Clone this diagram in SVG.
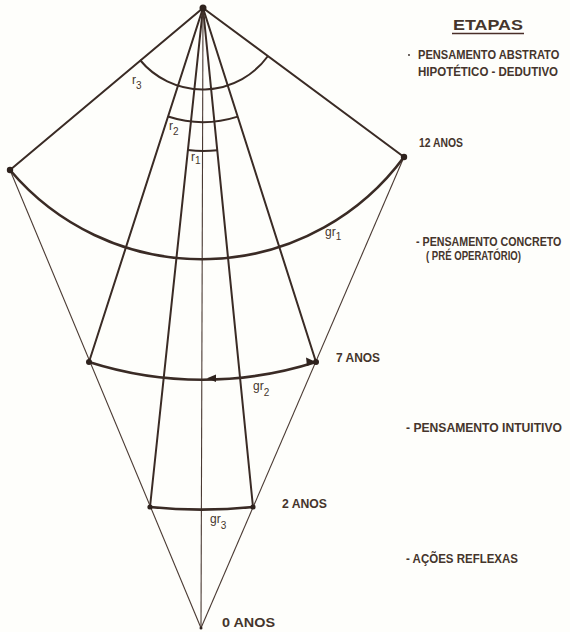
<svg xmlns="http://www.w3.org/2000/svg" width="570" height="632" viewBox="0 0 570 632">
<style>
.thick{stroke:#3a2b25;stroke-width:2;fill:none;stroke-linecap:round}
.thin{stroke:#4a3a33;stroke-width:1.1;fill:none}
.arc{stroke:#3a2b25;stroke-width:2.6;fill:none}
.sarc{stroke:#3a2b25;stroke-width:2;fill:none}
.dot{fill:#2e221d}
.lab{font-family:"Liberation Sans",Arial,sans-serif;font-weight:bold;font-size:12px;fill:#45352c}
.sym{font-family:"Liberation Sans",Arial,sans-serif;font-size:12px;fill:#45352c}
.sub{font-size:10px}
</style>
<rect width="570" height="632" fill="#fefefb"/>
<g id="connectors">
  <line class="thick" x1="203" y1="8" x2="10" y2="170"/>
  <line class="thick" x1="203" y1="8" x2="404" y2="157"/>
  <line class="thick" x1="203" y1="8" x2="89" y2="362"/>
  <line class="thick" x1="203" y1="8" x2="316" y2="362"/>
  <line class="thick" x1="203" y1="8" x2="150" y2="507"/>
  <line class="thick" x1="203" y1="8" x2="253" y2="507"/>
  <line class="thin" x1="203" y1="8" x2="201" y2="628"/>
  <line class="thin" x1="10" y1="170" x2="201" y2="628"/>
  <line class="thin" x1="404" y1="157" x2="201" y2="628"/>
</g>
<g id="arcs">
  <path id="gr1" class="arc" d="M10,170 A251,251 0 0,0 404,157"/>
  <path id="gr2" class="arc" d="M89,362 A372,372 0 0,0 316,362"/>
  <path id="gr3" class="arc" d="M150,507 A502,502 0 0,0 253,507"/>
  <path id="r3" class="sarc" d="M140,60 A81,81 0 0,0 268,56"/>
  <path id="r2" class="sarc" d="M168,116.5 A114,114 0 0,0 237.7,116.6"/>
  <path id="r1" class="sarc" d="M187.9,150.1 A143,143 0 0,0 217.3,150.3"/>
  <path class="dot" d="M207,378.3 L216,374.5 L216,382 Z"/>
  <path class="dot" d="M316,362 L306,357.5 L307,366 Z"/>
</g>
<g id="points">
  <circle class="dot" cx="203" cy="8" r="3.5"/>
  <circle class="dot" cx="10" cy="170" r="3.2"/>
  <circle class="dot" cx="404" cy="157" r="3.2"/>
  <circle class="dot" cx="89" cy="362" r="3"/>
  <circle class="dot" cx="316" cy="362" r="3"/>
  <circle class="dot" cx="150" cy="507" r="2.6"/>
  <circle class="dot" cx="253" cy="507" r="2.6"/>
  <circle class="dot" cx="201" cy="628" r="1.5"/>
</g>
<g id="arc-labels">
  <text class="sym" x="132" y="84">r<tspan class="sub" dy="5">3</tspan></text>
  <text class="sym" x="169" y="130">r<tspan class="sub" dy="5">2</tspan></text>
  <text class="sym" x="191" y="161">r<tspan class="sub" dy="3">1</tspan></text>
  <text class="sym" x="325" y="236">gr<tspan class="sub" dy="4">1</tspan></text>
  <text class="sym" x="253" y="390">gr<tspan class="sub" dy="6">2</tspan></text>
  <text class="sym" x="210" y="523">gr<tspan class="sub" dy="6">3</tspan></text>
</g>
<g id="etapas">
  <text class="lab" x="453" y="30" textLength="70" lengthAdjust="spacingAndGlyphs" style="font-size:14px">ETAPAS</text>
  <line x1="452" y1="33.5" x2="524" y2="33.5" stroke="#4a2e28" stroke-width="1.5"/>
</g>
<g id="stage-abstrato">
  <circle class="dot" cx="409" cy="55" r="0.9"/>
  <text class="lab" transform="translate(418,59) scale(0.925,1)">PENSAMENTO ABSTRATO</text>
  <text class="lab" transform="translate(418,76) scale(0.96,1)">HIPOTÉTICO - DEDUTIVO</text>
</g>
<g id="age-12">
  <text class="lab" x="419" y="147" textLength="44" lengthAdjust="spacingAndGlyphs">12 ANOS</text>
</g>
<g id="stage-concreto">
  <text class="lab" transform="translate(416,246) scale(0.89,1)">- PENSAMENTO CONCRETO</text>
  <text class="lab" x="426" y="260" textLength="95" lengthAdjust="spacingAndGlyphs">( PRÉ OPERATÓRIO)</text>
</g>
<g id="age-7">
  <text class="lab" x="336" y="362" textLength="44" lengthAdjust="spacingAndGlyphs">7 ANOS</text>
</g>
<g id="stage-intuitivo">
  <text class="lab" x="406" y="432" textLength="156" lengthAdjust="spacingAndGlyphs">- PENSAMENTO INTUITIVO</text>
</g>
<g id="age-2">
  <text class="lab" x="282" y="508" textLength="45" lengthAdjust="spacingAndGlyphs">2 ANOS</text>
</g>
<g id="stage-reflexas">
  <text class="lab" x="406" y="563" textLength="112" lengthAdjust="spacingAndGlyphs">- AÇÕES REFLEXAS</text>
</g>
<g id="age-0">
  <text class="lab" x="222" y="627" textLength="53" lengthAdjust="spacingAndGlyphs">0 ANOS</text>
</g>
</svg>
